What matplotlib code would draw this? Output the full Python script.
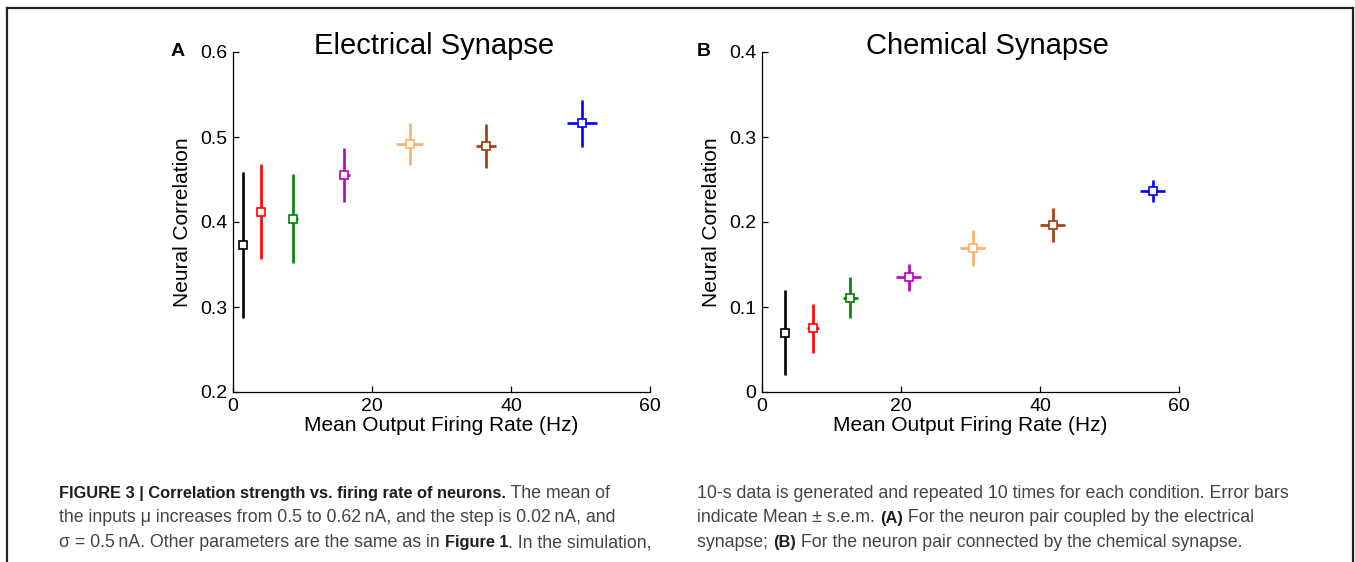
#!/usr/bin/env python3
"""Correlation strength vs. firing rate, electrical and chemical synapse panels."""

import matplotlib

matplotlib.use("Agg")
import matplotlib.pyplot as plt  # noqa: E402
from matplotlib.lines import Line2D  # noqa: E402

plt.rcParams["font.family"] = ["Liberation Sans", "DejaVu Sans"]

COLORS = ["black", "#ff0000", "#008000", "#c000c0", "#ffb066", "#a33a0c", "#0000ff"]

# Panel A: electrical synapse
elec_rate = [1.5, 4.1, 8.7, 16.0, 25.4, 36.4, 50.2]
elec_rate_err = [0.0, 0.2, 0.7, 0.8, 1.9, 1.45, 2.15]
elec_corr = [0.373, 0.412, 0.404, 0.455, 0.492, 0.489, 0.516]
elec_corr_err = [0.086, 0.056, 0.052, 0.032, 0.025, 0.026, 0.028]

# Panel B: chemical synapse
chem_rate = [3.3, 7.3, 12.7, 21.1, 30.3, 41.8, 56.2]
chem_rate_err = [0.0, 0.85, 1.05, 1.75, 1.75, 1.8, 1.8]
chem_corr = [0.070, 0.075, 0.111, 0.135, 0.169, 0.196, 0.236]
chem_corr_err = [0.050, 0.029, 0.024, 0.016, 0.021, 0.020, 0.013]

CAPTION_LEFT = [
    [("FIGURE 3 | Correlation strength vs. firing rate of neurons.", True),
     (" The mean of", False)],
    [("the inputs \u03bc increases from 0.5 to 0.62\u2009nA, and the step is 0.02\u2009nA, and", False)],
    [("\u03c3 = 0.5\u2009nA. Other parameters are the same as in ", False),
     ("Figure 1", True), (". In the simulation,", False)],
]
CAPTION_RIGHT = [
    [("10-s data is generated and repeated 10 times for each condition. Error bars", False)],
    [("indicate Mean \u00b1 s.e.m. ", False), ("(A)", True),
     (" For the neuron pair coupled by the electrical", False)],
    [("synapse; ", False), ("(B)", True),
     (" For the neuron pair connected by the chemical synapse.", False)],
]

W, H = 1355, 562


def panel(fig, rect, rate, rate_err, corr, corr_err, ylim, yticks, ylabels):
    ax = fig.add_axes(rect)
    for i, c in enumerate(COLORS):
        ax.errorbar(rate[i], corr[i], xerr=rate_err[i], yerr=corr_err[i],
                    fmt="s", color=c, ecolor=c, elinewidth=1.9, capsize=0,
                    markersize=5.5, markerfacecolor="white", markeredgecolor=c,
                    markeredgewidth=1.2, zorder=3)
    ax.set_xlim(0, 60)
    ax.set_ylim(*ylim)
    ax.set_xticks([0, 20, 40, 60])
    ax.set_yticks(yticks)
    ax.set_yticklabels(ylabels)
    for side in ("top", "right"):
        ax.spines[side].set_visible(False)
    for side in ("left", "bottom"):
        ax.spines[side].set_linewidth(0.9)
    ax.tick_params(direction="in", length=4, width=0.9, labelsize=14, pad=4)
    ax.set_xlabel("Mean Output Firing Rate (Hz)", fontsize=15, labelpad=1)
    ax.set_ylabel("Neural Correlation", fontsize=15, labelpad=6)
    return ax


def rich_line(fig, renderer, x, y, parts):
    """Draw a caption line of normal/bold runs, each placed after the last."""
    for text, bold in parts:
        if bold:
            style = dict(fontsize=11.8, fontweight="bold", color="#1e1e1e")
        else:
            style = dict(fontsize=12.8, color="#444444")
        t = fig.text(x, y, text, ha="left", va="baseline", **style)
        x += t.get_window_extent(renderer=renderer).width / W


def main():
    fig = plt.figure(figsize=(W / 100, H / 100), dpi=100)
    fig.patch.set_facecolor("white")

    panel(fig, [233 / W, 1 - 392 / H, 417 / W, 340 / H],
          elec_rate, elec_rate_err, elec_corr, elec_corr_err,
          (0.2, 0.6), [0.2, 0.3, 0.4, 0.5, 0.6],
          ["0.2", "0.3", "0.4", "0.5", "0.6"])
    panel(fig, [762 / W, 1 - 392 / H, 417 / W, 340 / H],
          chem_rate, chem_rate_err, chem_corr, chem_corr_err,
          (0.0, 0.4), [0.0, 0.1, 0.2, 0.3, 0.4],
          ["0", "0.1", "0.2", "0.3", "0.4"])

    fig.text(434 / W, 1 - 54 / H, "Electrical Synapse", fontsize=21,
             ha="center", va="baseline")
    fig.text(987 / W, 1 - 54 / H, "Chemical Synapse", fontsize=21,
             ha="center", va="baseline")
    fig.text(178 / W, 1 - 52 / H, "A", fontsize=14, fontweight="bold",
             ha="center", va="center")
    fig.text(704 / W, 1 - 52 / H, "B", fontsize=14, fontweight="bold",
             ha="center", va="center")

    # outer frame (bottom edge is off the page)
    for xs, ys in (((7, 1353), (8, 8)), ((7, 7), (8, H)), ((1353, 1353), (8, H))):
        fig.add_artist(Line2D([x / W for x in xs], [1 - y / H for y in ys],
                              color="#222222", lw=1.6))

    renderer = fig.canvas.get_renderer()
    for i, parts in enumerate(CAPTION_LEFT):
        rich_line(fig, renderer, 59 / W, 1 - (498 + 24.5 * i) / H, parts)
    for i, parts in enumerate(CAPTION_RIGHT):
        rich_line(fig, renderer, 697 / W, 1 - (498 + 24.5 * i) / H, parts)

    fig.savefig("out.png", dpi=100)


if __name__ == "__main__":
    main()
